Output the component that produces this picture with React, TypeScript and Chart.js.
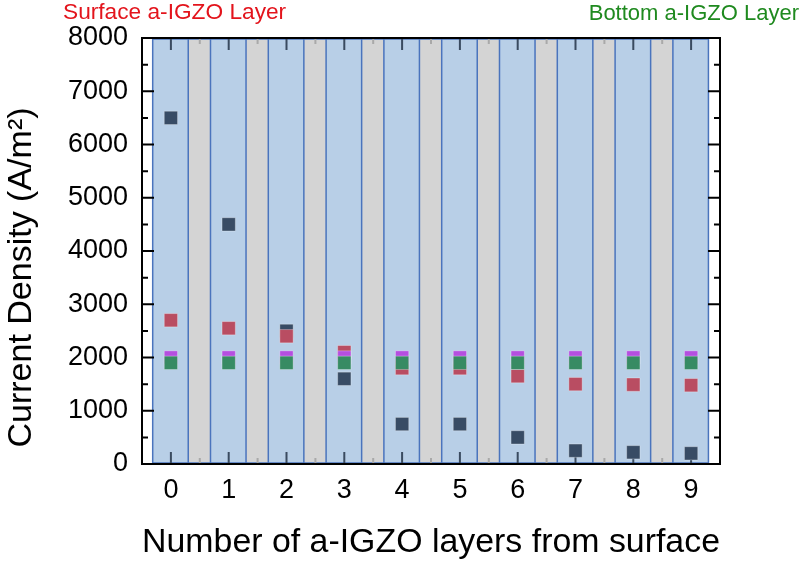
import React, { useEffect, useRef } from 'react';
import { Chart, registerables } from 'chart.js';

Chart.register(...registerables);

// ---- data ----
const layers = [0, 1, 2, 3, 4, 5, 6, 7, 8, 9];
const navySeries = [6500, 4500, 2500, 1600, 750, 750, 500, 250, 220, 200];
const pinkSeries = [2700, 2550, 2400, 2100, 1800, 1800, 1650, 1500, 1490, 1480];
const purpleSeries = [2000, 2000, 2000, 2000, 2000, 2000, 2000, 2000, 2000, 2000];
const greenSeries = [1900, 1900, 1900, 1900, 1900, 1900, 1900, 1900, 1900, 1900];
const yTicks = [0, 1000, 2000, 3000, 4000, 5000, 6000, 7000, 8000];
const yMinorTicks = [500, 1500, 2500, 3500, 4500, 5500, 6500, 7500];
const xMinorTicks = [0.5, 1.5, 2.5, 3.5, 4.5, 5.5, 6.5, 7.5, 8.5];

const xTitle = 'Number of a-IGZO layers from surface';
const yTitle = 'Current Density (A/m\u00B2)';
const surfaceLabel = 'Surface a-IGZO Layer';
const bottomLabel = 'Bottom a-IGZO Layer';

const FONT = '"Liberation Sans", Arial, Helvetica, sans-serif';

const BLUE_BAND = '#b8cfe7';
const GRAY_BAND = '#d4d4d4';
const BAND_EDGE = '#4a74bd';
const HALF = 0.3;

const decorPlugin = {
  id: 'decor',
  beforeDatasetsDraw(chart: any) {
    const { ctx, chartArea: a, scales } = chart;
    const x = scales.x;
    const y = scales.y;
    ctx.save();
    const top = a.top;
    const h = a.bottom - a.top;
    layers.forEach((v, i) => {
      const l = x.getPixelForValue(v - HALF - 0.015);
      const r = x.getPixelForValue(v + HALF);
      ctx.fillStyle = BLUE_BAND;
      ctx.fillRect(l, top, r - l, h);
      if (i < layers.length - 1) {
        const r2 = x.getPixelForValue(v + 1 - HALF - 0.015);
        ctx.fillStyle = GRAY_BAND;
        ctx.fillRect(r, top, r2 - r, h);
      }
    });
    ctx.strokeStyle = BAND_EDGE;
    ctx.lineWidth = 1.5;
    ctx.beginPath();
    layers.forEach((v) => {
      const l = x.getPixelForValue(v - HALF - 0.015);
      const r = x.getPixelForValue(v + HALF);
      ctx.moveTo(l, top);
      ctx.lineTo(l, a.bottom);
      ctx.moveTo(r, top);
      ctx.lineTo(r, a.bottom);
    });
    const bl = x.getPixelForValue(layers[0] - HALF - 0.015);
    const br = x.getPixelForValue(layers[layers.length - 1] + HALF);
    ctx.moveTo(bl, a.bottom - 1);
    ctx.lineTo(br, a.bottom - 1);
    ctx.moveTo(bl, top + 1);
    ctx.lineTo(br, top + 1);
    ctx.stroke();

    // x ticks
    ctx.lineWidth = 2;
    ctx.strokeStyle = '#3a4b60';
    ctx.beginPath();
    layers.forEach((v) => {
      const px = x.getPixelForValue(v);
      ctx.moveTo(px, a.bottom);
      ctx.lineTo(px, a.bottom - 12);
      ctx.moveTo(px, a.top);
      ctx.lineTo(px, a.top + 12);
    });
    ctx.stroke();
    ctx.strokeStyle = '#a9a9a9';
    ctx.beginPath();
    xMinorTicks.forEach((v) => {
      const px = x.getPixelForValue(v);
      ctx.moveTo(px, a.bottom);
      ctx.lineTo(px, a.bottom - 6);
      ctx.moveTo(px, a.top);
      ctx.lineTo(px, a.top + 6);
    });
    ctx.stroke();

    // y ticks
    ctx.strokeStyle = '#000';
    ctx.beginPath();
    yTicks.forEach((v) => {
      const py = y.getPixelForValue(v);
      ctx.moveTo(a.left, py);
      ctx.lineTo(a.left + 12, py);
      ctx.moveTo(a.right, py);
      ctx.lineTo(a.right - 12, py);
    });
    yMinorTicks.forEach((v) => {
      const py = y.getPixelForValue(v);
      ctx.moveTo(a.left, py);
      ctx.lineTo(a.left + 6, py);
      ctx.moveTo(a.right, py);
      ctx.lineTo(a.right - 6, py);
    });
    ctx.stroke();

    // frame
    ctx.lineWidth = 2;
    ctx.strokeStyle = '#000';
    ctx.strokeRect(a.left, a.top, a.right - a.left, a.bottom - a.top);
    ctx.restore();
  },
  afterDraw(chart: any) {
    const { ctx } = chart;
    ctx.save();
    ctx.font = `34px ${FONT}`;
    ctx.fillStyle = '#000';
    ctx.textAlign = 'center';
    ctx.textBaseline = 'middle';
    ctx.translate(21.5, 277.5);
    ctx.rotate(-Math.PI / 2);
    ctx.fillText(yTitle, 0, 0);
    ctx.restore();

    ctx.save();
    ctx.textBaseline = 'alphabetic';
    ctx.textAlign = 'left';
    ctx.font = `22.7px ${FONT}`;
    ctx.fillStyle = '#e3141c';
    ctx.fillText(surfaceLabel, 63, 19);
    ctx.font = `22px ${FONT}`;
    ctx.textAlign = 'right';
    ctx.fillStyle = '#1f8a1f';
    ctx.fillText(bottomLabel, 799, 20);
    ctx.restore();
  },
};

function makePoints(values: number[]) {
  return layers.map((v, i) => ({ x: v, y: values[i] }));
}

export default function App() {
  const canvasRef = useRef<HTMLCanvasElement | null>(null);

  useEffect(() => {
    const canvas = canvasRef.current;
    if (!canvas) return;
    const common = {
      pointStyle: 'rect',
      pointRadius: 9.4,
      pointHoverRadius: 9.4,
      borderWidth: 1,
      showLine: false,
    };
    const chart = new Chart(canvas, {
      type: 'scatter',
      data: {
        datasets: [
          {
            ...common,
            label: 'green',
            data: makePoints(greenSeries),
            backgroundColor: '#378b63',
            borderColor: 'rgba(255,255,255,0.3)',
            order: 0,
          },
          {
            ...common,
            label: 'purple',
            data: makePoints(purpleSeries),
            backgroundColor: '#b54fe0',
            borderColor: 'rgba(255,255,255,0.3)',
            order: 1,
          },
          {
            ...common,
            label: 'pink',
            data: makePoints(pinkSeries),
            backgroundColor: '#b94d62',
            borderColor: 'rgba(255,255,255,0.3)',
            order: 2,
          },
          {
            ...common,
            label: 'navy',
            data: makePoints(navySeries),
            backgroundColor: '#384c65',
            borderColor: 'rgba(255,255,255,0.3)',
            order: 3,
          },
        ] as any,
      },
      options: {
        responsive: false,
        animation: false,
        devicePixelRatio: 1,
        layout: { padding: { top: 38, right: 86, left: 0, bottom: 0 } },
        plugins: {
          legend: { display: false },
          tooltip: { enabled: false },
        },
        scales: {
          x: {
            type: 'linear',
            min: -0.5,
            max: 9.5,
            grid: { display: false, drawTicks: false },
            border: { display: false },
            afterBuildTicks: (scale: any) => {
              scale.ticks = layers.map((v) => ({ value: v }));
            },
            afterFit: (scale: any) => {
              scale.height = 105;
            },
            ticks: {
              autoSkip: false,
              maxRotation: 0,
              padding: 10,
              color: '#000',
              font: { family: FONT, size: 27 },
              callback: (v: any) => String(v),
            },
            title: {
              display: true,
              text: xTitle,
              color: '#000',
              font: { family: FONT, size: 34 },
              padding: { top: 0, bottom: 6 },
            },
          },
          y: {
            type: 'linear',
            min: 0,
            max: 8000,
            grid: { display: false, drawTicks: false },
            border: { display: false },
            afterBuildTicks: (scale: any) => {
              scale.ticks = yTicks.map((v) => ({ value: v }));
            },
            afterFit: (scale: any) => {
              scale.width = 142;
            },
            ticks: {
              autoSkip: false,
              padding: 14,
              color: '#000',
              font: { family: FONT, size: 27 },
              callback: (v: any) => String(v),
            },
          },
        },
      } as any,
      plugins: [decorPlugin],
    });
    return () => chart.destroy();
  }, []);

  return (
    <div style={{ position: 'absolute', left: 0, top: 0, width: 806, height: 569 }}>
      <canvas ref={canvasRef} width={806} height={569} style={{ display: 'block' }} />
    </div>
  );
}
